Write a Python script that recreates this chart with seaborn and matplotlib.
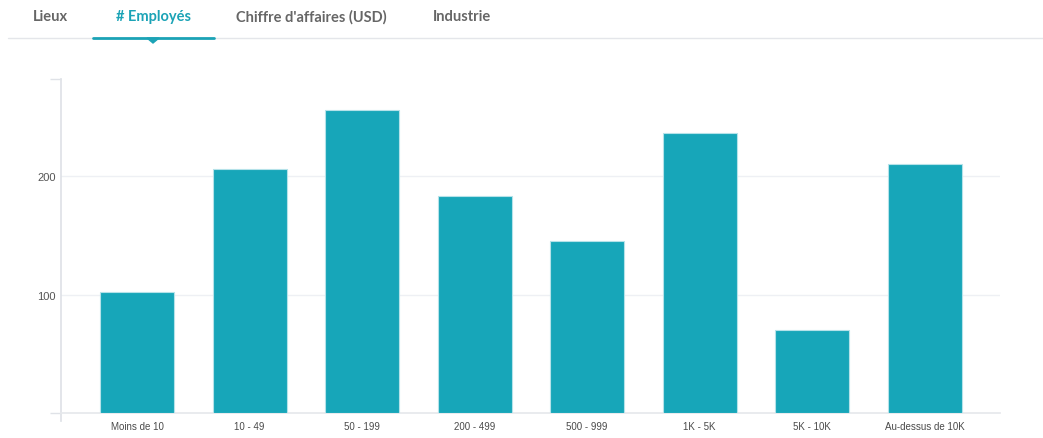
import matplotlib
matplotlib.use("Agg")
import matplotlib.pyplot as plt
import matplotlib.lines as mlines
import matplotlib.patches as mpatches
import pandas as pd
import seaborn as sns

# data
categories = ["Moins de 10", "10 - 49", "50 - 199", "200 - 499",
              "500 - 999", "1K - 5K", "5K - 10K", "Au-dessus de 10K"]
employees = [102, 206, 256, 183, 145, 236, 70, 210]
tabs = ["Lieux", "# Employés", "Chiffre d'affaires (USD)", "Industrie"]

bar_color = "#17a6b9"
teal = "#1ba3b6"
grid_color = "#eef0f4"

sns.set_theme(style="white")
plt.rcParams["font.family"] = ["Liberation Sans", "DejaVu Sans"]

W, H = 1043, 439
fig = plt.figure(figsize=(W / 100, H / 100), dpi=100)
ax = fig.add_axes([61 / W, (H - 414) / H, (1000 - 61) / W, (414 - 80) / H])

df = pd.DataFrame({"cat": categories, "n": employees})
sns.barplot(data=df, x="cat", y="n", color=bar_color, saturation=1,
            width=0.658, edgecolor="#b5e2e9", linewidth=0.8, ax=ax, zorder=3)

ax.set_xlim(-0.676, 7.67)
ax.set_ylim(0, 282)
ax.set_xlabel("")
ax.set_ylabel("")

ax.set_yticks([100, 200])
ax.set_yticklabels(["100", "200"])
ax.set_yticks([0, 282], minor=True)
ax.tick_params(axis="y", which="major", length=0, pad=4, labelsize=8, labelcolor="#555555")
ax.tick_params(axis="y", which="minor", length=8, width=1, color="#dfe2e7", left=True)
ax.tick_params(axis="x", length=0, pad=6, labelsize=7, labelcolor="#4a4a4a")
ax.grid(axis="y", which="major", color=grid_color, linewidth=1, zorder=0)

for s in ["top", "right"]:
    ax.spines[s].set_visible(False)
ax.spines["left"].set_color("#dfe2e7")
ax.spines["bottom"].set_color("#e6e8ec")
ax.spines["left"].set_bounds(-7, 282)

# tab header
tab_x = [50, 153, 311, 462]
for name, x in zip(tabs, tab_x):
    col = teal if name == "# Employés" else "#666666"
    fig.text(x / W, 1 - 17 / H, name, ha="center", va="center", fontsize=10.5,
             fontweight="bold", color=col, family=["Lato", "DejaVu Sans"])

fig.add_artist(mlines.Line2D([8 / W, 1], [1 - 38.5 / H] * 2, color="#e4e6ea", linewidth=1))
fig.add_artist(mlines.Line2D([93 / W, 214 / W], [1 - 38.5 / H] * 2, color=teal, linewidth=2))
fig.add_artist(mpatches.Polygon([[147 / W, 1 - 39 / H], [159 / W, 1 - 39 / H], [153 / W, 1 - 44 / H]],
                                closed=True, color=teal, transform=fig.transFigure))

fig.savefig("out.png", dpi=100)
